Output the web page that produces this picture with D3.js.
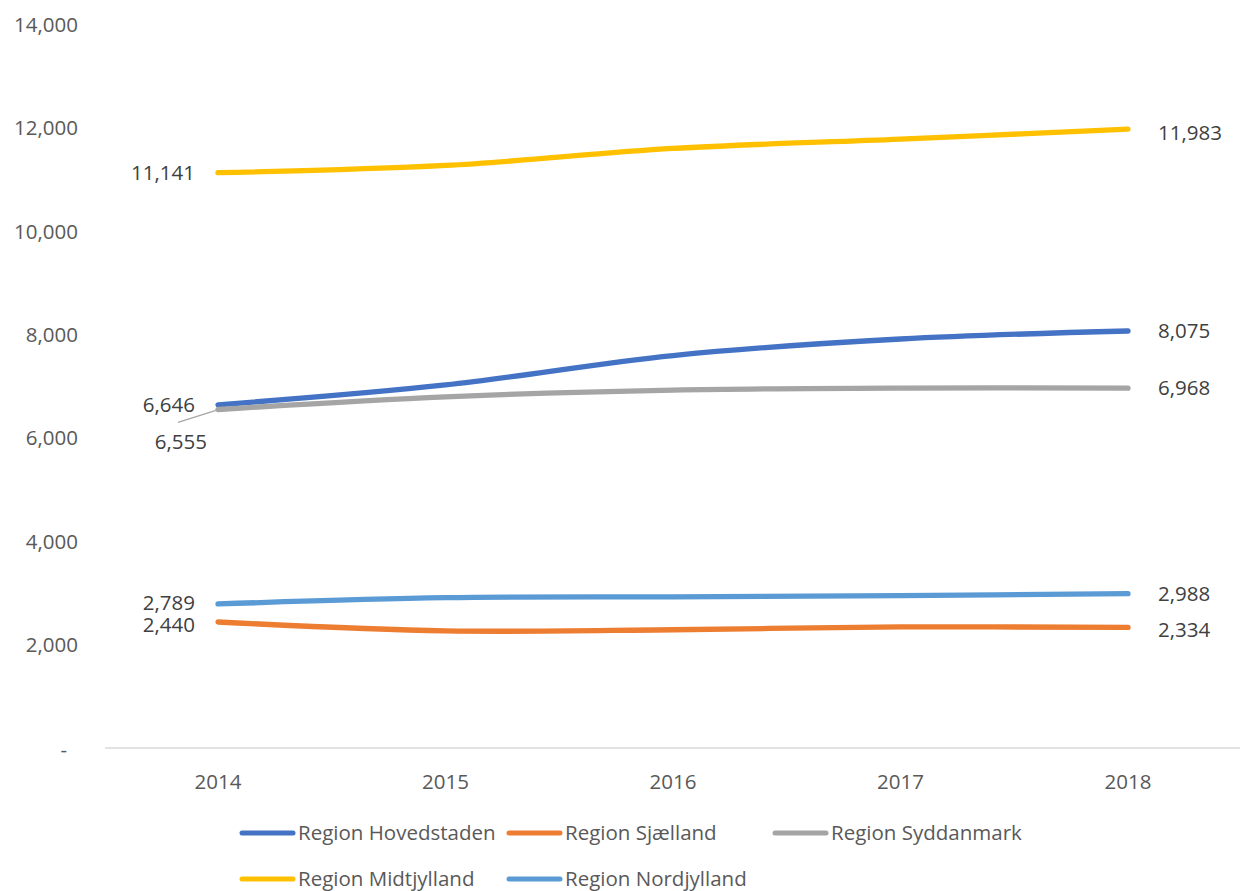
<!DOCTYPE html>
<html><head><meta charset="utf-8">
<script src="https://cdn.jsdelivr.net/npm/d3@7/dist/d3.min.js"></script>
<style>
body{margin:0;background:#fff;}
svg{display:block;font-family:"Open Sans","Noto Sans",sans-serif;}
</style></head><body>
<svg id="c" width="1244" height="891"></svg>
<script>
const years = [2014, 2015, 2016, 2017, 2018];
const seriesNames = ["Region Hovedstaden", "Region Sjælland", "Region Syddanmark", "Region Midtjylland", "Region Nordjylland"];
const hovedstaden = [6646, 7030, 7600, 7920, 8075];
const sjaelland = [2440, 2268, 2290, 2345, 2334];
const syddanmark = [6555, 6800, 6930, 6970, 6968];
const midtjylland = [11141, 11280, 11610, 11790, 11983];
const nordjylland = [2789, 2910, 2928, 2950, 2988];
const yTicks = [0, 2000, 4000, 6000, 8000, 10000, 12000, 14000];
const colors = ["#4472C4", "#ED7D31", "#A5A5A5", "#FFC000", "#5B9BD5"];

const allSeries = [hovedstaden, sjaelland, syddanmark, midtjylland, nordjylland];
const svg = d3.select("#c");
const x = d3.scalePoint().domain(years).range([218, 1128]);
const y = d3.scaleLinear().domain([0, 14000]).range([748, 25]);
const fmt = d3.format(",");
const FS = 20.5;

// y axis labels
svg.append("g").selectAll("text").data(yTicks).join("text")
  .attr("x", d => d === 0 ? 67 : 78)
  .attr("y", d => y(d) + (d === 0 ? 2 : 0))
  .attr("dy", "0.35em")
  .attr("text-anchor", "end")
  .attr("font-size", FS)
  .attr("fill", "#595959")
  .text(d => d === 0 ? "-" : fmt(d));

// x axis line
svg.append("line").attr("x1", 105).attr("x2", 1240).attr("y1", y(0)).attr("y2", y(0))
  .attr("stroke", "#D9D9D9").attr("stroke-width", 1.3);
svg.append("g").selectAll("text").data(years).join("text")
  .attr("x", d => x(d)).attr("y", 782)
  .attr("dy", "0.35em")
  .attr("text-anchor", "middle").attr("font-size", FS).attr("fill", "#595959")
  .text(d => d);

const line = d3.line().x((d, i) => x(years[i])).y(d => y(d)).curve(d3.curveCatmullRom.alpha(0.5));
svg.append("g").selectAll("path").data(allSeries).join("path")
  .attr("d", d => line(d))
  .attr("fill", "none")
  .attr("stroke", (d, i) => colors[i])
  .attr("stroke-width", 5.3)
  .attr("stroke-linecap", "round");

// data labels
const leftLabels = [
  {s: 0, dy: 0, dx: 0},
  {s: 1, dy: 3, dx: 0},
  {s: 2, dy: 32, dx: 12},
  {s: 3, dy: 0, dx: 0},
  {s: 4, dy: -1, dx: 0}
];
const rightLabels = [
  {s: 0, dy: 0}, {s: 1, dy: 2}, {s: 2, dy: 0}, {s: 3, dy: 4}, {s: 4, dy: 0}
];
// leader line for Syddanmark 2014
svg.append("line")
  .attr("x1", x(years[0]) - 40).attr("y1", y(syddanmark[0]) + 13)
  .attr("x2", x(years[0]) - 2).attr("y2", y(syddanmark[0]) + 1)
  .attr("stroke", "#A6A6A6").attr("stroke-width", 1.3);

svg.append("g").selectAll("text").data(leftLabels).join("text")
  .attr("x", d => x(years[0]) - 23 + d.dx)
  .attr("y", d => y(allSeries[d.s][0]) + d.dy)
  .attr("dy", "0.35em")
  .attr("text-anchor", "end").attr("font-size", FS).attr("fill", "#404040")
  .text(d => fmt(allSeries[d.s][0]));
svg.append("g").selectAll("text").data(rightLabels).join("text")
  .attr("x", x(years[4]) + 30)
  .attr("y", d => y(allSeries[d.s][4]) + d.dy)
  .attr("dy", "0.35em")
  .attr("text-anchor", "start").attr("font-size", FS).attr("fill", "#404040")
  .text(d => fmt(allSeries[d.s][4]));

// legend
const legendPos = [[240, 833], [507, 833], [773, 833], [240, 879], [507, 879]];
const lg = svg.append("g").selectAll("g").data(seriesNames).join("g")
  .attr("transform", (d, i) => `translate(${legendPos[i][0]},${legendPos[i][1]})`);
lg.append("line").attr("x1", 2).attr("x2", 53).attr("y1", 0).attr("y2", 0)
  .attr("stroke", (d, i) => colors[i]).attr("stroke-width", 5).attr("stroke-linecap", "round");
lg.append("text").attr("x", 58).attr("y", 0).attr("dy", "0.35em")
  .attr("font-size", FS).attr("fill", "#595959").text(d => d);
</script>
</body></html>
